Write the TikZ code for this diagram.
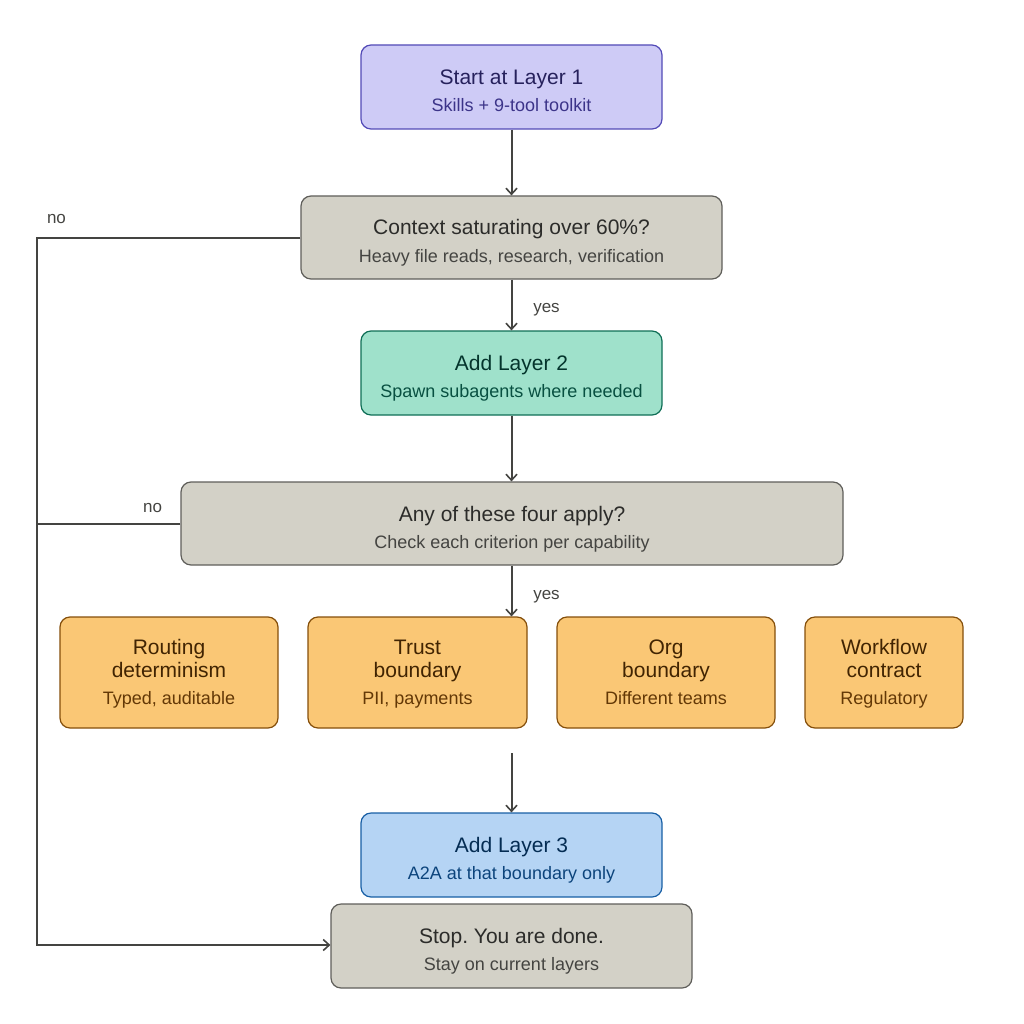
\documentclass[tikz,border=0pt]{standalone}
\usepackage{fontspec}
\setmainfont{Liberation Sans}
\usetikzlibrary{arrows.meta,calc}
\frenchspacing
\definecolor{lineC}{HTML}{444441}
\definecolor{purF}{HTML}{CECBF6}\definecolor{purD}{HTML}{534AB7}\definecolor{purT}{HTML}{26215C}\definecolor{purS}{HTML}{3C3489}
\definecolor{gryF}{HTML}{D3D1C7}\definecolor{gryD}{HTML}{5F5E5A}\definecolor{gryT}{HTML}{2C2C2A}\definecolor{gryS}{HTML}{444441}
\definecolor{grnF}{HTML}{9FE1CB}\definecolor{grnD}{HTML}{0F6E56}\definecolor{grnT}{HTML}{04342C}\definecolor{grnS}{HTML}{085041}
\definecolor{orgF}{HTML}{FAC775}\definecolor{orgD}{HTML}{854F0B}\definecolor{orgT}{HTML}{412402}\definecolor{orgS}{HTML}{633806}
\definecolor{bluF}{HTML}{B5D4F4}\definecolor{bluD}{HTML}{185FA5}\definecolor{bluT}{HTML}{042C53}\definecolor{bluS}{HTML}{0C447C}
\tikzset{
  box/.style={draw, rounded corners=10pt, line width=1.2pt, inner sep=0pt},
  purbox/.style={box, fill=purF, draw=purD},
  grybox/.style={box, fill=gryF, draw=gryD},
  grnbox/.style={box, fill=grnF, draw=grnD},
  orgbox/.style={box, fill=orgF, draw=orgD},
  blubox/.style={box, fill=bluF, draw=bluD},
  ttl/.style={anchor=base, inner sep=0pt, font=\fontsize{21}{25}\selectfont},
  sbt/.style={anchor=base, inner sep=0pt, font=\fontsize{18}{21}\selectfont},
  conn/.style={draw=lineC, line width=2pt, -{Straight Barb[length=6pt,width=11pt,line width=1.6pt]}},
  plain/.style={draw=lineC, line width=2pt},
  lbl/.style={anchor=base, text=lineC, font=\fontsize{17}{20}\selectfont, inner sep=0pt},
}
\begin{document}
\begin{tikzpicture}[x=1pt,y=-1pt]
\useasboundingbox (0,0) rectangle (1024,1024);
% boxes
\node[purbox, minimum width=301pt, minimum height=84pt] (start) at (511.5,87) {};
\node[grybox, minimum width=421pt, minimum height=83pt] (ctx) at (511.5,237.5) {};
\node[grnbox, minimum width=301pt, minimum height=84pt] (l2) at (511.5,373) {};
\node[grybox, minimum width=662pt, minimum height=83pt] (any) at (512,523.5) {};
\node[orgbox, minimum width=218pt, minimum height=111pt] (rout) at (169,672.5) {};
\node[orgbox, minimum width=219pt, minimum height=111pt] (trust) at (417.5,672.5) {};
\node[orgbox, minimum width=218pt, minimum height=111pt] (org) at (666,672.5) {};
\node[orgbox, minimum width=158pt, minimum height=111pt] (wf) at (884,672.5) {};
\node[blubox, minimum width=301pt, minimum height=84pt] (l3) at (511.5,855) {};
\node[grybox, minimum width=361pt, minimum height=84pt] (stop) at (511.5,946) {};
% texts
\node[ttl, text=purT] (startT) at ($(start)+(0,-2.5)$) {Start at Layer 1};
\node[sbt, text=purS] (startS) at ($(start)+(0,24.5)$) {Skills + 9-tool toolkit};
\node[ttl, text=gryT] (ctxT) at ($(ctx)+(0,-2.5)$) {Context saturating over 60\%?};
\node[sbt, text=gryS] (ctxS) at ($(ctx)+(0,24.5)$) {Heavy file reads, research, verification};
\node[ttl, text=grnT] (l2T) at ($(l2)+(0,-2.5)$) {Add Layer 2};
\node[sbt, text=grnS] (l2S) at ($(l2)+(0,24.5)$) {Spawn subagents where needed};
\node[ttl, text=gryT] (anyT) at ($(any)+(0,-2.5)$) {Any of these four apply?};
\node[sbt, text=gryS] (anyS) at ($(any)+(0,24.5)$) {Check each criterion per capability};
\node[ttl, text=orgT] (routT1) at ($(rout)+(0,-18.5)$) {Routing};
\node[ttl, text=orgT] (routT2) at ($(rout)+(0,5)$) {determinism};
\node[sbt, text=orgS] (routS) at ($(rout)+(0,31.5)$) {Typed, auditable};
\node[ttl, text=orgT] (trustT1) at ($(trust)+(0,-18.5)$) {Trust};
\node[ttl, text=orgT] (trustT2) at ($(trust)+(0,5)$) {boundary};
\node[sbt, text=orgS] (trustS) at ($(trust)+(0,31.5)$) {PII, payments};
\node[ttl, text=orgT] (orgT1) at ($(org)+(0,-18.5)$) {Org};
\node[ttl, text=orgT] (orgT2) at ($(org)+(0,5)$) {boundary};
\node[sbt, text=orgS] (orgS) at ($(org)+(0,31.5)$) {Different teams};
\node[ttl, text=orgT] (wfT1) at ($(wf)+(0,-18.5)$) {Workflow};
\node[ttl, text=orgT] (wfT2) at ($(wf)+(0,5)$) {contract};
\node[sbt, text=orgS] (wfS) at ($(wf)+(0,31.5)$) {Regulatory};
\node[ttl, text=bluT] (l3T) at ($(l3)+(0,-2.5)$) {Add Layer 3};
\node[sbt, text=bluS] (l3S) at ($(l3)+(0,24.5)$) {A2A at that boundary only};
\node[ttl, text=gryT] (stopT) at ($(stop)+(0,-2.5)$) {Stop. You are done.};
\node[sbt, text=gryS] (stopS) at ($(stop)+(0,24.5)$) {Stay on current layers};
% coordinates
\coordinate (rowout) at (511.5,753);
\coordinate (railtop) at (37,237.5);
\coordinate (railbot) at (37,945);
\coordinate (railmid) at (37,523.5);
% connectors
\draw[conn] (start.south) -- (ctx.north -| start.south);
\draw[conn] (ctx.south -| l2.north) -- (l2.north);
\draw[conn] (l2.south) -- (any.north -| l2.south);
\draw[conn] (any.south -| l2.south) -- (l2.south |- trust.north);
\draw[conn] (rowout) -- (l3.north);
\draw[conn] (ctx.west) -- (railtop) -- (railbot) -- (railbot -| stop.west);
\draw[plain] (any.west) -- (railmid);
% labels
\node[lbl] (yes1) at (546.5,312.5) {yes};
\node[lbl] (yes2) at (546.5,599) {yes};
\node[lbl] (no1) at (56.5,223) {no};
\node[lbl] (no2) at (152.5,512) {no};
\end{tikzpicture}
\end{document}
